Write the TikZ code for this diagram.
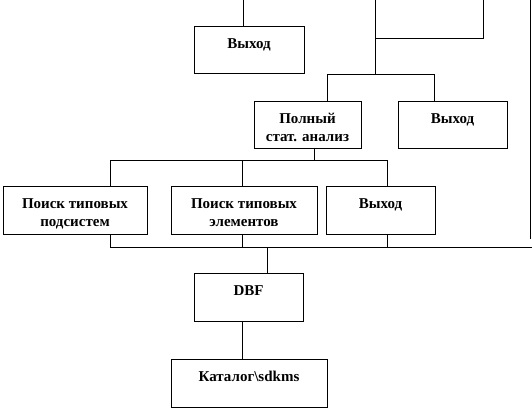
\documentclass[tikz,border=0pt]{standalone}
\usepackage{fontspec}
\setmainfont{Liberation Serif}
\newcommand{\bxt}[3]{\parbox[c][#2][t]{#1}{\centering\bfseries\fontsize{15}{18}\selectfont\rule{0pt}{22.5pt}#3}}
\begin{document}
\begin{tikzpicture}[x=1pt,y=-1pt,
  box/.style={draw,line width=0.9pt,inner sep=0pt,outer sep=0pt},
  wire/.style={line width=0.9pt}]
\useasboundingbox (0,0) rectangle (532,411);
% boxes: centers and sizes
\node[box] (out1) at (249,49.5) {\bxt{110pt}{47pt}{Выход}};
\node[box] (full) at (307.5,124.5) {\bxt{107pt}{47pt}{Полный\\стат. анализ}};
\node[box] (out2) at (452.5,124.5) {\bxt{109pt}{47pt}{Выход}};
\node[box] (sub) at (75,210) {\bxt{144pt}{48pt}{Поиск типовых\\подсистем}};
\node[box] (elem) at (244,210) {\bxt{146pt}{48pt}{Поиск типовых\\элементов}};
\node[box] (out3) at (380.5,210) {\bxt{109pt}{48pt}{Выход}};
\node[box] (dbf) at (248.5,297) {\bxt{109pt}{48pt}{DBF}};
\node[box] (cat) at (249,383) {\bxt{156pt}{48pt}{Каталог\textbackslash sdkms}};
% top wires
\coordinate (t1) at (243,0);
\draw[wire] (t1) -- (t1 |- out1.north);
\coordinate (t2) at (375,0);
\coordinate (t3) at (483,0);
\coordinate (j1) at (375,74.7);
\coordinate (j2) at (327,74.7);
\coordinate (j3) at (434,74.7);
\draw[wire] (t2) -- (j1);
\draw[wire] (t3) -- (483,38) -- (375,38);
\draw[wire] (j2 |- full.north) -- (j2) -- (j3) -- (j3 |- out2.north);
% full -> row
\coordinate (f1) at (314,160.7);
\coordinate (r1) at (110,160.7);
\coordinate (r2) at (242,160.7);
\coordinate (r3) at (387,160.7);
\draw[wire] (f1 |- full.south) -- (f1);
\draw[wire] (r1 |- sub.north) -- (r1) -- (r3) -- (r3 |- out3.north);
\draw[wire] (r2) -- (r2 |- elem.north);
% row -> bus
\coordinate (b1) at (110,247.7);
\coordinate (b2) at (242,247.7);
\coordinate (b3) at (387,247.7);
\coordinate (b4) at (532,247.7);
\coordinate (b5) at (267,247.7);
\draw[wire] (b1 |- sub.south) -- (b1) -- (b4);
\draw[wire] (b2 |- elem.south) -- (b2);
\draw[wire] (b3 |- out3.south) -- (b3);
\coordinate (rt) at (530,0);
\coordinate (rb) at (530,239);
\draw[wire] (rt) -- (rb);
\draw[wire] (b5) -- (b5 |- dbf.north);
\coordinate (d1) at (242,0);
\draw[wire] (d1 |- dbf.south) -- (d1 |- cat.north);
\end{tikzpicture}
\end{document}
